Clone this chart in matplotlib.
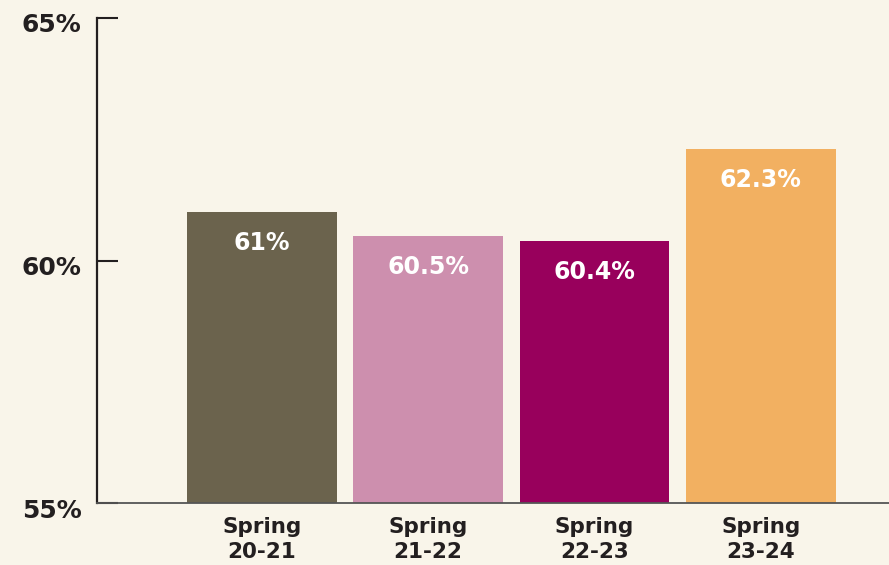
import matplotlib
matplotlib.use("Agg")
import matplotlib.pyplot as plt
import matplotlib.transforms as mtransforms

categories = ["Spring\n20-21", "Spring\n21-22", "Spring\n22-23", "Spring\n23-24"]
values = [61.0, 60.5, 60.4, 62.3]
value_labels = ["61%", "60.5%", "60.4%", "62.3%"]
colors = ["#6b634d", "#cd8fae", "#98005c", "#f2b061"]
yticks = [55, 60, 65]
ytick_labels = ["55%", "60%", "65%"]

bg = "#f9f5ea"
dark = "#231f20"

fig = plt.figure(figsize=(8.89, 5.65), dpi=100, facecolor=bg)
ax = fig.add_axes([97/889, 62/565, 1 - 97/889, (503-18)/565])
ax.set_facecolor(bg)

x = list(range(len(categories)))
ax.bar(x, values, width=0.9, color=colors, zorder=2)

for xi, v, lab in zip(x, values, value_labels):
    ax.annotate(lab, (xi, v), xytext=(0, -22), textcoords="offset points",
                ha="center", va="center", color="white", fontsize=17,
                fontweight="bold")

ax.set_ylim(55, 65)
ax.set_xlim(-0.99, 3.77)
ax.set_yticks(yticks)
ax.set_yticklabels(ytick_labels, fontsize=18, fontweight="bold", color=dark)
ax.set_xticks(x)
ax.set_xticklabels(categories, fontsize=15.5, fontweight="bold", color=dark,
                   linespacing=1.3)

ax.tick_params(axis="y", direction="in", length=15, width=1.5, color=dark, pad=11)
ax.tick_params(axis="x", length=0, pad=10)

offset = mtransforms.ScaledTranslation(0, -5/100, fig.dpi_scale_trans)
for lbl in ax.get_yticklabels():
    lbl.set_transform(lbl.get_transform() + offset)

for s in ["top", "right"]:
    ax.spines[s].set_visible(False)
ax.spines["left"].set_color(dark)
ax.spines["left"].set_linewidth(1.6)
ax.spines["bottom"].set_color("#555555")
ax.spines["bottom"].set_linewidth(1.3)
ax.spines["bottom"].set_zorder(3)

fig.savefig("out.png", dpi=100, facecolor=bg)
